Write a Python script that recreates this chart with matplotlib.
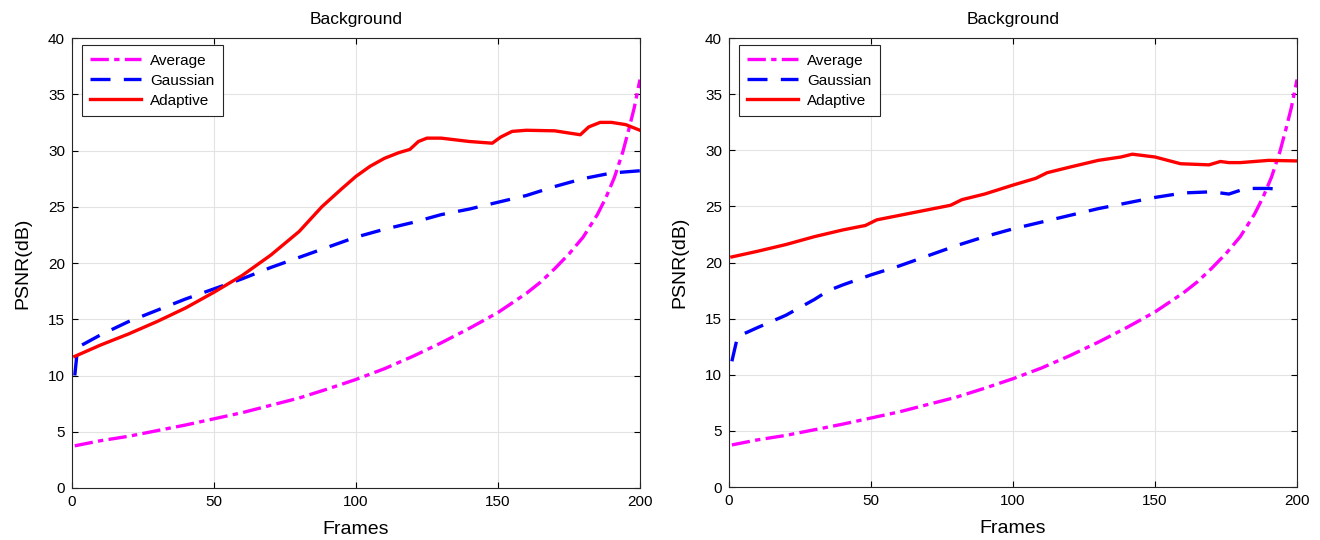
import matplotlib
matplotlib.use('Agg')
from matplotlib import pyplot as plt

plt.rcParams['font.family'] = ['Liberation Sans', 'DejaVu Sans']

## Data

avg_x = [1, 10, 20, 30, 40, 50, 60, 70, 80, 90, 100, 110, 120, 130, 140, 150, 160, 165, 170, 175, 180, 185, 188, 191, 194, 196, 198, 200]
avg_y = [3.75, 4.2, 4.6, 5.1, 5.6, 6.15, 6.7, 7.35, 8.0, 8.8, 9.65, 10.6, 11.7, 12.9, 14.2, 15.6, 17.3, 18.3, 19.5, 20.8, 22.3, 24.3, 25.8, 27.6, 29.9, 31.8, 33.8, 36.3]

# left panel
g1_x = [1, 2, 10, 20, 30, 40, 50, 60, 70, 80, 90, 100, 110, 120, 130, 140, 150, 160, 170, 180, 190, 200]
g1_y = [10.0, 12.5, 13.6, 14.8, 15.8, 16.8, 17.7, 18.6, 19.6, 20.5, 21.4, 22.3, 23.0, 23.6, 24.3, 24.8, 25.4, 26.0, 26.8, 27.5, 28.0, 28.2]

a1_x = [1, 10, 20, 30, 40, 50, 60, 70, 80, 88, 95, 100, 105, 110, 115, 119, 122, 125, 130, 140, 148, 151, 155, 160, 170, 179, 182, 186, 190, 195, 200]
a1_y = [11.7, 12.7, 13.7, 14.8, 16.0, 17.4, 18.9, 20.7, 22.8, 25.0, 26.6, 27.7, 28.6, 29.3, 29.8, 30.1, 30.8, 31.1, 31.1, 30.8, 30.65, 31.2, 31.7, 31.8, 31.75, 31.4, 32.1, 32.5, 32.5, 32.3, 31.8]

# right panel
g2_x = [1, 3, 10, 20, 30, 35, 40, 50, 60, 70, 80, 90, 100, 110, 120, 130, 140, 150, 160, 170, 176, 182, 190, 195]
g2_y = [11.2, 13.4, 14.2, 15.3, 16.7, 17.5, 18.0, 18.9, 19.7, 20.6, 21.5, 22.3, 23.0, 23.6, 24.2, 24.8, 25.3, 25.8, 26.2, 26.3, 26.1, 26.6, 26.6, 26.5]

a2_x = [1, 10, 20, 30, 40, 48, 52, 60, 70, 78, 82, 90, 100, 108, 112, 120, 130, 138, 142, 150, 159, 169, 173, 176, 180, 190, 200]
a2_y = [20.5, 21.0, 21.6, 22.3, 22.9, 23.3, 23.8, 24.2, 24.7, 25.1, 25.6, 26.1, 26.9, 27.5, 28.0, 28.5, 29.1, 29.4, 29.65, 29.4, 28.8, 28.7, 29.0, 28.9, 28.9, 29.1, 29.05]

series = [(g1_x, g1_y, a1_x, a1_y), (g2_x, g2_y, a2_x, a2_y)]
positions = [[0.0545, 0.0963, 0.4303, 0.8333], [0.5523, 0.0981, 0.4303, 0.8315]]

fig = plt.figure(figsize=(13.2, 5.4), dpi=100)

for pos, (gx, gy, ax_, ay) in zip(positions, series):
	ax = fig.add_axes(pos)
	ax.plot(avg_x, avg_y, color='#ff00ff', lw=2.4, dashes=(5.5, 1.6, 1.6, 1.6), label='Average')
	ax.plot(gx, gy, color='#0000ff', lw=2.4, dashes=(6, 4), label='Gaussian')
	ax.plot(ax_, ay, color='#ff0000', lw=2.4, label='Adaptive')
	ax.set_xlim(0, 200)
	ax.set_ylim(0, 40)
	ax.set_xticks([0, 50, 100, 150, 200])
	ax.set_yticks(range(0, 41, 5))
	ax.grid(True, color='#e3e3e3', lw=0.8)
	ax.set_axisbelow(True)
	ax.tick_params(direction='in', top=True, right=True, labelsize=11, length=4.5, width=0.8, pad=5)
	for s in ax.spines.values():
		s.set_linewidth(0.8)
		s.set_color('#262626')
	ax.set_xlabel('Frames', fontsize=14, labelpad=9)
	ax.set_ylabel('PSNR(dB)', fontsize=14, labelpad=12)
	ax.set_title('Background', fontsize=12.5, pad=10)
	leg = ax.legend(loc='upper left', fontsize=11, handlelength=3.3, handletextpad=0.6,
		labelspacing=0.4, borderpad=0.55, borderaxespad=0, fancybox=False, edgecolor='#262626',
		framealpha=1, bbox_to_anchor=(0.0176, 0.984))
	leg.get_frame().set_linewidth(0.8)

plt.savefig('out.png', dpi=100)
